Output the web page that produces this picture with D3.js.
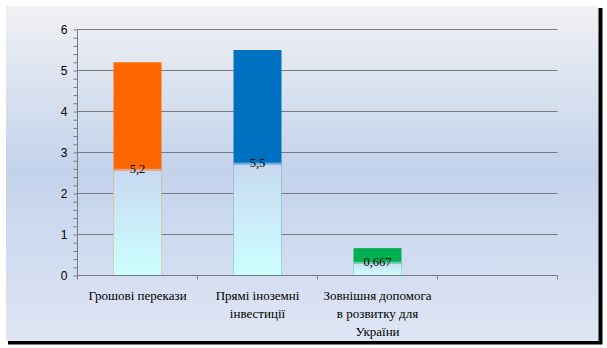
<!DOCTYPE html>
<html>
<head>
<meta charset="utf-8">
<script src="https://cdn.jsdelivr.net/npm/d3@7"></script>
<style>
  html, body { margin: 0; padding: 0; background: #ffffff; }
  svg { display: block; }
</style>
</head>
<body>
<svg id="chart" width="607" height="348"></svg>
<script>
// Capital inflows to Ukraine, billions USD
const categories = ["Грошові перекази", "Прямі іноземні інвестиції", "Зовнішня допомога в розвитку для України", ""];
const categoryLines = [["Грошові перекази"], ["Прямі іноземні", "інвестиції"], ["Зовнішня допомога", "в розвитку для", "України"], []];
const values = [5.2, 5.5, 0.667, null];
const valueLabels = ["5,2", "5,5", "0,667", ""];
const barColors = ["#ff6600", "#0070c0", "#00b050", "#000000"];
const yTicks = [0, 1, 2, 3, 4, 5, 6];

const svg = d3.select("#chart");
const defs = svg.append("defs");

// Frame background
const bg = defs.append("linearGradient").attr("id", "bgGrad")
  .attr("x1", 0).attr("y1", 0).attr("x2", 0).attr("y2", 1);
bg.append("stop").attr("offset", "0%").attr("stop-color", "#f1f1f3");
bg.append("stop").attr("offset", "49%").attr("stop-color", "#c3d3ec");
bg.append("stop").attr("offset", "100%").attr("stop-color", "#dfe5f4");

// Glass overlay for the lower half of each bar
const glass = defs.append("linearGradient").attr("id", "glassGrad")
  .attr("x1", 0).attr("y1", 0).attr("x2", 0).attr("y2", 1);
glass.append("stop").attr("offset", "0%").attr("stop-color", "#c8d9f0");
glass.append("stop").attr("offset", "100%").attr("stop-color", "#ccffff");

// shadow + frame
svg.append("rect").attr("x", 8).attr("y", 8).attr("width", 594.5).attr("height", 336.5).attr("fill", "#000");
svg.append("rect").attr("x", 6).attr("y", 6).attr("width", 592.5).attr("height", 335).attr("fill", "url(#bgGrad)");

const plotLeft = 77.5, plotRight = 557.5, plotTop = 29.5, plotBottom = 275.5;

const x = d3.scaleBand().domain(d3.range(categories.length)).range([plotLeft, plotRight]).paddingInner(0).paddingOuter(0);
const y = d3.scaleLinear().domain([0, 6]).range([plotBottom, plotTop]);
const barW = 48;

// gridlines
svg.append("g").selectAll("line").data(yTicks.filter(d => d > 0)).join("line")
  .attr("x1", plotLeft).attr("x2", plotRight)
  .attr("y1", d => y(d)).attr("y2", d => y(d))
  .attr("stroke", "#7a7a7a").attr("stroke-width", 1);

// bars
const bars = svg.append("g").selectAll("g").data(values.map((v, i) => ({ v, i })).filter(d => d.v != null)).join("g");
bars.append("rect")
  .attr("x", d => x(d.i) + x.bandwidth() / 2 - barW / 2)
  .attr("width", barW)
  .attr("y", d => y(d.v))
  .attr("height", d => y(0) - y(d.v))
  .attr("fill", d => barColors[d.i]);
bars.append("rect")
  .attr("x", d => x(d.i) + x.bandwidth() / 2 - barW / 2)
  .attr("width", barW)
  .attr("y", d => y(d.v / 2))
  .attr("height", d => y(0) - y(d.v / 2))
  .attr("fill", "url(#glassGrad)");
bars.append("rect")
  .attr("x", d => x(d.i) + x.bandwidth() / 2 - barW / 2)
  .attr("width", barW)
  .attr("y", d => y(d.v / 2))
  .attr("height", 2)
  .attr("fill", d => barColors[d.i]).attr("opacity", 0.45);

// value labels at the middle of each bar
bars.append("text")
  .attr("x", d => x(d.i) + x.bandwidth() / 2)
  .attr("y", d => y(d.v / 2))
  .attr("dy", "0.3em")
  .attr("text-anchor", "middle")
  .attr("font-family", "'Liberation Serif', serif")
  .attr("font-size", 12.5)
  .attr("fill", "#000")
  .text(d => valueLabels[d.i]);

// y axis
const yAxis = d3.axisLeft(y).tickValues(d3.range(0, 6.001, 0.2)).tickSize(4).tickPadding(6)
  .tickFormat(d => Math.abs(d - Math.round(d)) < 1e-6 ? d3.format("d")(Math.round(d)) : "");
const yg = svg.append("g").attr("transform", `translate(${plotLeft},0)`).call(yAxis);
yg.select(".domain").attr("stroke", "#7a7a7a").attr("d", `M0,${plotBottom}V${plotTop}`);
yg.selectAll(".tick line").attr("stroke", "#7a7a7a");
yg.selectAll(".tick text").attr("font-family", "'Liberation Sans', sans-serif").attr("font-size", 12).attr("fill", "#000").attr("x", -10);

// x axis
const xg = svg.append("g").attr("transform", `translate(0,${plotBottom})`);
xg.append("line").attr("x1", plotLeft).attr("x2", plotRight).attr("y1", 0).attr("y2", 0).attr("stroke", "#7a7a7a");
xg.selectAll("line.tk").data(d3.range(categories.length + 1)).join("line").attr("class", "tk")
  .attr("x1", i => plotLeft + i * x.bandwidth()).attr("x2", i => plotLeft + i * x.bandwidth())
  .attr("y1", 0).attr("y2", 4).attr("stroke", "#7a7a7a");

// category labels
const labels = xg.selectAll("text.cat").data(categoryLines.map((lines, i) => ({ lines, i }))).join("text")
  .attr("class", "cat")
  .attr("text-anchor", "middle")
  .attr("font-family", "'Liberation Serif', serif")
  .attr("font-size", 13)
  .attr("fill", "#000");
labels.selectAll("tspan").data(d => d.lines.map((t, k) => ({ t, k, i: d.i }))).join("tspan")
  .attr("x", d => x(d.i) + x.bandwidth() / 2)
  .attr("y", d => 24 + d.k * 18)
  .text(d => d.t);
</script>
</body>
</html>
